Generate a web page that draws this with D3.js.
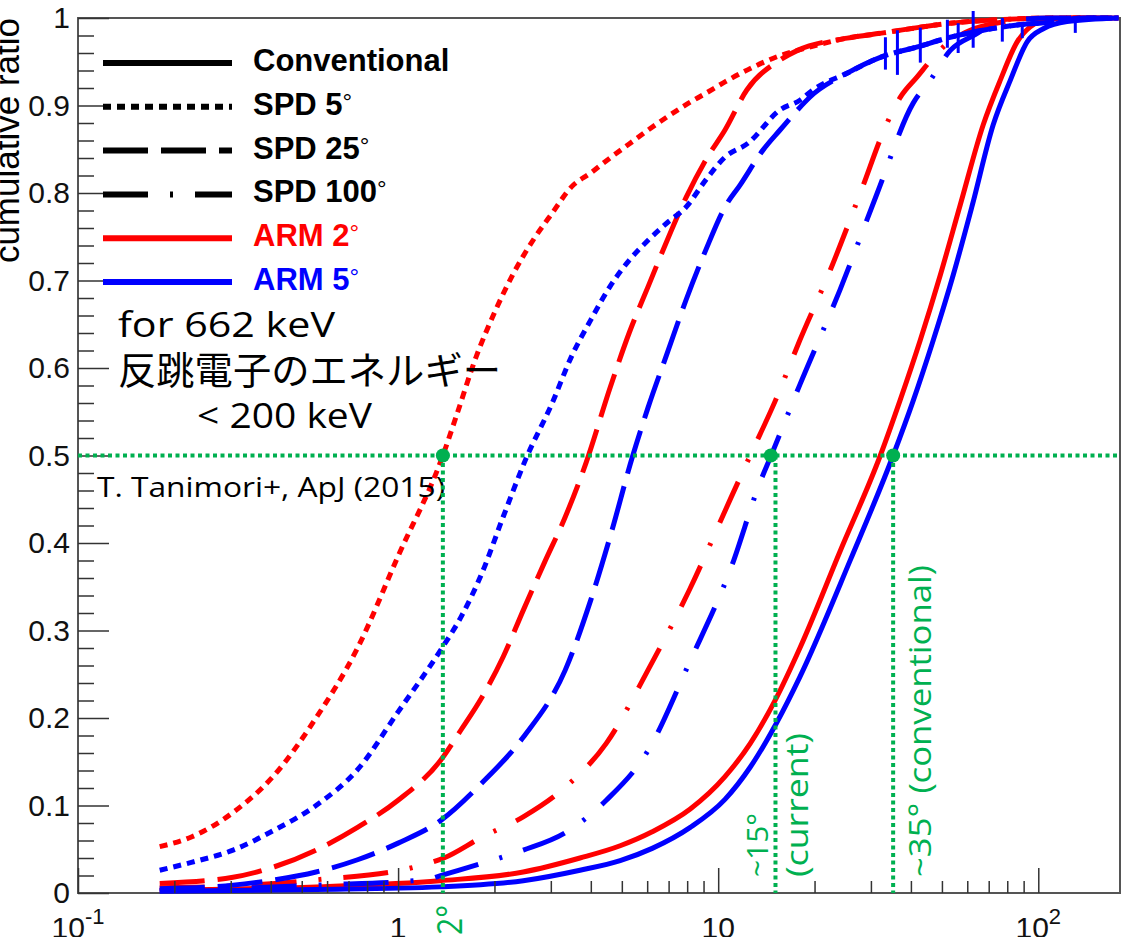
<!DOCTYPE html>
<html>
<head>
<meta charset="utf-8">
<script src="https://cdn.jsdelivr.net/npm/d3@7/dist/d3.min.js"></script>
<style>
  body { margin: 0; background: #fff; }
  svg { display: block; }
</style>
</head>
<body>
<svg id="chart" width="1145" height="937"></svg>
<script>
// each point is [angle in degrees, cumulative ratio]

// upper part where the SPD 5 and SPD 25 curves run together
const redTail = [[25.3,0.977],[32.8,0.983],[41.9,0.989],[53.1,0.994],[67.3,0.997],[86.0,0.999],[109,1.0],[178,1.0]];
const blueTail = [[25.3,0.937],[32.1,0.955],[41.9,0.967],[53.1,0.978],[67.3,0.986],[86.0,0.992],[109,0.995],[138,1.0],[178,1.0]];

// ARM 2 deg (red)
const redSolid = [[0.18,0.003],[0.554,0.007],[1.35,0.014],[2.46,0.024],[3.70,0.04],[4.94,0.054],[6.22,0.07],[8.18,0.096],[10.5,0.133],[12.6,0.171],[15.1,0.221],[18.0,0.28],[24.0,0.39],[32.1,0.50],[37.0,0.563],[42.8,0.632],[49.4,0.706],[57.0,0.786],[67.3,0.878],[76.1,0.929],[86.0,0.973],[94.4,0.99],[109,0.999],[178,1.0]];
const redDotted = [[0.18,0.053],[0.226,0.064],[0.305,0.092],[0.411,0.135],[0.554,0.20],[0.747,0.28],[1.0,0.385],[1.38,0.50],[1.52,0.545],[1.75,0.612],[2.01,0.665],[2.30,0.709],[2.64,0.746],[3.03,0.777],[3.48,0.807],[4.00,0.823],[4.59,0.840],[5.27,0.856],[6.04,0.872],[6.93,0.887],[7.94,0.901],[9.15,0.914],[10.5,0.927],[12.4,0.941],[15.6,0.957],[17.7,0.963]].concat(redTail);
const redDashed = [[0.18,0.011],[0.305,0.018],[0.411,0.030],[0.554,0.049],[0.747,0.075],[1.0,0.106],[1.36,0.152],[1.57,0.186],[1.83,0.224],[2.13,0.270],[2.46,0.323],[2.86,0.377],[3.33,0.430],[3.86,0.491],[4.6,0.578],[5.27,0.640],[6.04,0.693],[6.93,0.746],[7.94,0.795],[9.15,0.838],[10.5,0.872],[12.3,0.918],[15.6,0.952],[17.7,0.963]].concat(redTail);
const redDashDot = [[0.18,0.006],[0.305,0.008],[0.554,0.015],[1.135,0.030],[1.39,0.040],[1.83,0.064],[2.46,0.087],[3.33,0.121],[4.47,0.171],[6.04,0.255],[8.12,0.346],[11.0,0.453],[12.7,0.503],[15.1,0.563],[18.0,0.632],[22.4,0.712],[27.8,0.80],[33.7,0.88],[37.0,0.909],[41.9,0.933],[47.0,0.955],[52.0,0.971],[61.3,0.986],[76.1,0.995],[109,1.0],[178,1.0]];

// ARM 5 deg (blue)
const blueSolid = [[0.18,0.002],[0.554,0.004],[1.35,0.007],[2.46,0.014],[3.70,0.026],[4.94,0.037],[6.22,0.051],[8.18,0.075],[10.5,0.107],[12.6,0.144],[15.2,0.194],[18.0,0.247],[25.9,0.381],[35.2,0.50],[40.7,0.563],[47.0,0.632],[54.2,0.706],[62.2,0.786],[72.3,0.878],[81.8,0.929],[92.4,0.973],[104,0.988],[123,0.996],[178,1.0]];
const blueDotted = [[0.18,0.026],[0.226,0.035],[0.305,0.049],[0.411,0.072],[0.554,0.10],[0.747,0.141],[1.0,0.207],[1.36,0.278],[1.57,0.315],[1.83,0.366],[2.13,0.430],[2.50,0.495],[3.03,0.560],[3.48,0.613],[4.00,0.655],[4.59,0.693],[5.27,0.723],[6.04,0.746],[6.93,0.766],[7.94,0.784],[9.15,0.815],[10.5,0.841],[12.4,0.857],[15.6,0.895],[18.0,0.906],[19.8,0.918]].concat(blueTail);
const blueDashed = [[0.18,0.005],[0.305,0.009],[0.411,0.015],[0.554,0.024],[0.747,0.038],[1.0,0.057],[1.36,0.083],[1.83,0.126],[2.46,0.178],[3.33,0.255],[4.00,0.335],[4.62,0.41],[5.39,0.498],[6.04,0.555],[6.93,0.617],[7.94,0.678],[9.15,0.735],[10.5,0.784],[11.7,0.809],[13.8,0.849],[15.6,0.872],[17.7,0.895],[19.4,0.910]].concat(blueTail);
const blueDashDot = [[0.18,0.003],[0.305,0.005],[0.554,0.009],[1.206,0.015],[1.39,0.021],[1.83,0.034],[2.46,0.049],[3.33,0.069],[4.47,0.106],[6.04,0.163],[8.12,0.263],[11.0,0.373],[13.5,0.469],[14.6,0.499],[18.0,0.581],[24.0,0.689],[31.4,0.80],[40.7,0.903],[46.0,0.929],[53.1,0.963],[63.5,0.981],[74.5,0.995],[109,1.0],[178,1.0]];

// noisy spikes on the blue upper curve: [angle, low, high]
const blueSpikes = [[33.3,0.941,0.978],[36.3,0.935,0.986],[42.8,0.949,0.989],[52.0,0.966,0.998],[56.2,0.960,0.994],[62.6,0.966,1.008],[77.2,0.973,1.0],[89.1,0.977,0.993],[130.5,0.983,0.999]];

// legend entries
const legendLabels = ["Conventional", "SPD 5", "SPD 25", "SPD 100", "ARM 2", "ARM 5"];
const legendStyles = ["solid", "dotted", "dashed", "dashdot", "solid", "solid"];
const legendColors = ["#000", "#000", "#000", "#000", "#ff0000", "#0000ff"];
const legendDegree = [false, true, true, true, true, true];

// axis ticks
const xTickValues = [0.1, 1, 10, 100];
const xTickBase = ["10", "1", "10", "10"];
const xTickExp = ["-1", "", "", "2"];
const yTickValues = [0, 0.1, 0.2, 0.3, 0.4, 0.5, 0.6, 0.7, 0.8, 0.9, 1];

// green guide lines: the 0.5 level and the angles where curves cross it
const halfLevel = 0.5;
const markerAngles = [1.38, 15.1, 35.2];
const dotAngles = [1.38, 14.6, 35.2];

const red = "#ff0000";
const blue = "#0000ff";
const green = "#00b050";
const axisFont = "'Liberation Sans', Arial, sans-serif";
const noteFont = "'Open Sans', 'Noto Sans', sans-serif";

// dash patterns used by the curves and the legend
const dashes = {
    solid: null,
    dotted: "8,6",
    dashed: "45,13",
    dashdot: "45,22,3,22"
};

const svg = d3.select("#chart");

// log scale on angle, linear on ratio
const x = d3.scaleLog().domain([0.1, 180]).range([78, 1120]);
const y = d3.scaleLinear().domain([0, 1]).range([893, 18]);

// frame
svg.append("rect")
    .attr("x", x(0.1))
    .attr("y", y(1))
    .attr("width", x(180) - x(0.1))
    .attr("height", y(0) - y(1))
    .attr("fill", "none")
    .attr("stroke", "#555")
    .attr("stroke-width", 2);

// curves
const line = d3.line()
    .x((d) => x(d[0]))
    .y((d) => y(d[1]))
    .curve(d3.curveMonotoneX);

const series = [
    {data: redSolid, color: red, style: "solid"},
    {data: redDotted, color: red, style: "dotted"},
    {data: redDashed, color: red, style: "dashed"},
    {data: redDashDot, color: red, style: "dashdot"},
    {data: blueSolid, color: blue, style: "solid"},
    {data: blueDotted, color: blue, style: "dotted"},
    {data: blueDashed, color: blue, style: "dashed"},
    {data: blueDashDot, color: blue, style: "dashdot"}
];

svg.append("g").attr("class", "curves")
    .selectAll("path")
    .data(series)
    .enter()
    .append("path")
    .attr("d", (d) => line(d.data))
    .attr("fill", "none")
    .attr("stroke", (d) => d.color)
    .attr("stroke-width", 5)
    .attr("stroke-dasharray", (d) => dashes[d.style]);

svg.append("g").attr("class", "spikes")
    .selectAll("line")
    .data(blueSpikes)
    .enter()
    .append("line")
    .attr("x1", (d) => x(d[0]))
    .attr("x2", (d) => x(d[0]))
    .attr("y1", (d) => y(d[1]))
    .attr("y2", (d) => y(d[2]))
    .attr("stroke", blue)
    .attr("stroke-width", 3);

// x axis ticks (pointing inwards)
let xMinor = [];
[0.1, 1, 10].forEach((dec) => {
    for (let k = 2; k <= 9; k++) xMinor.push(dec * k);
});

let styleTicks = (g) => {
    g.select(".domain").remove();
    g.selectAll("line").attr("stroke", "#333").attr("stroke-width", 1.5);
};

svg.append("g")
    .attr("transform", "translate(0," + y(0) + ")")
    .call(d3.axisBottom(x).tickValues(xTickValues).tickSize(-25).tickFormat(""))
    .call(styleTicks);
svg.append("g")
    .attr("transform", "translate(0," + y(0) + ")")
    .call(d3.axisBottom(x).tickValues(xMinor).tickSize(-12).tickFormat(""))
    .call(styleTicks);

// x tick labels with exponents
let xLabel = svg.append("g").attr("class", "x-labels")
    .selectAll("text")
    .data(xTickValues)
    .enter()
    .append("text")
    .attr("x", (d) => x(d))
    .attr("y", 938)
    .attr("text-anchor", "middle")
    .attr("font-family", axisFont)
    .attr("font-size", 30)
    .attr("fill", "#111");
xLabel.append("tspan").text((d, i) => xTickBase[i]);
xLabel.append("tspan")
    .attr("dy", -14)
    .attr("font-size", 22)
    .text((d, i) => xTickExp[i]);

// y axis
let yMinor = d3.range(0, 51).map((i) => i / 50).filter((v, i) => i % 5 != 0);

let yAxis = svg.append("g")
    .attr("transform", "translate(" + x(0.1) + ",0)")
    .call(d3.axisLeft(y).tickValues(yTickValues).tickSize(-31).tickPadding(8).tickFormat(d3.format("~g")))
    .call(styleTicks);
yAxis.attr("font-family", axisFont).attr("font-size", 30);
yAxis.selectAll("text").attr("fill", "#111");

svg.append("g")
    .attr("transform", "translate(" + x(0.1) + ",0)")
    .call(d3.axisLeft(y).tickValues(yMinor).tickSize(-16).tickFormat(""))
    .call(styleTicks);

// y axis title
svg.append("text")
    .attr("transform", "translate(19," + y(1) + ") rotate(-90)")
    .attr("text-anchor", "end")
    .attr("font-family", axisFont)
    .attr("font-size", 35)
    .attr("fill", "#000")
    .text("cumulative ratio");

// legend
let legend = svg.append("g").attr("class", "legend")
    .selectAll("g")
    .data(legendLabels)
    .enter()
    .append("g")
    .attr("transform", (d, i) => "translate(0," + (63 + i * 43.8) + ")");

legend.append("line")
    .attr("x1", 103)
    .attr("x2", 232)
    .attr("stroke", (d, i) => legendColors[i])
    .attr("stroke-width", 6)
    .attr("stroke-dasharray", (d, i) => dashes[legendStyles[i]]);

let legendText = legend.append("text")
    .attr("x", 253)
    .attr("y", 8)
    .attr("font-family", axisFont)
    .attr("font-weight", "bold")
    .attr("font-size", 31)
    .attr("fill", (d, i) => legendColors[i]);
legendText.append("tspan").text((d) => d);
legendText.filter((d, i) => legendDegree[i])
    .append("tspan")
    .attr("dy", -5)
    .attr("font-weight", "normal")
    .attr("font-size", 24)
    .text("\u00b0");

// notes
let note = (txt, nx, ny, size, len, family) => {
    svg.append("text")
        .attr("x", nx)
        .attr("y", ny)
        .attr("font-family", family || noteFont)
        .attr("font-size", size)
        .attr("textLength", len)
        .attr("lengthAdjust", "spacingAndGlyphs")
        .attr("fill", "#000")
        .text(txt);
};
note("for 662 keV", 118, 337, 35, 217);
note("反跳電子のエネルギー", 118, 384, 38, 383, "'Noto Sans CJK JP', sans-serif");
note("< 200 keV", 197, 428, 35, 175);
note("T. Tanimori+, ApJ (2015)", 97, 497, 27, 348);

// green guides
let guides = svg.append("g").attr("class", "guides");

guides.append("line")
    .attr("x1", x(0.1))
    .attr("x2", x(180))
    .attr("y1", y(halfLevel))
    .attr("y2", y(halfLevel))
    .attr("stroke", green)
    .attr("stroke-width", 4)
    .attr("stroke-dasharray", "4,3.5");

guides.selectAll(".vguide")
    .data(markerAngles)
    .enter()
    .append("line")
    .attr("class", "vguide")
    .attr("x1", (d) => x(d))
    .attr("x2", (d) => x(d))
    .attr("y1", y(halfLevel))
    .attr("y2", y(0))
    .attr("stroke", green)
    .attr("stroke-width", 4)
    .attr("stroke-dasharray", "4,3.5");

guides.selectAll("circle")
    .data(dotAngles)
    .enter()
    .append("circle")
    .attr("cx", (d) => x(d))
    .attr("cy", y(halfLevel))
    .attr("r", 7)
    .attr("fill", green);

// rotated green labels
let vText = (txt, bx, by, size, len) => {
    guides.append("text")
        .attr("transform", "translate(" + bx + "," + by + ") rotate(-90)")
        .attr("font-family", noteFont)
        .attr("font-size", size)
        .attr("textLength", len)
        .attr("lengthAdjust", "spacingAndGlyphs")
        .attr("fill", green)
        .text(txt);
};
vText("2\u00b0", x(markerAngles[0]) + 19, 935, 34, 30);
vText("~15\u00b0", x(markerAngles[1]) - 7, y(0) - 16, 30, 64);
vText("(current)", x(markerAngles[1]) + 33, y(0) - 16, 31, 144);
vText("~35\u00b0  (conventional)", x(markerAngles[2]) + 38, y(0) - 16, 31, 312);
</script>
</body>
</html>
